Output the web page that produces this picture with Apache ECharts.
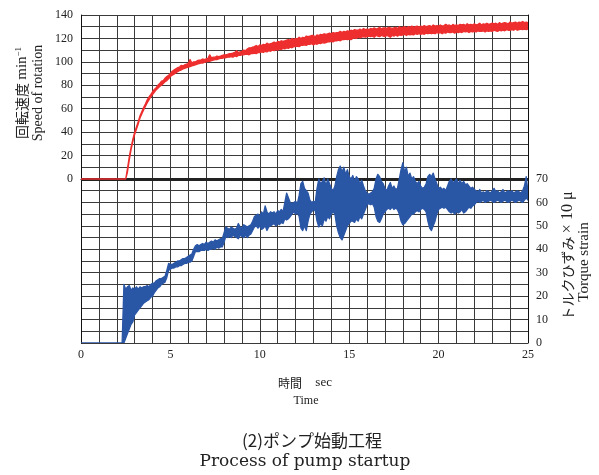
<!DOCTYPE html>
<html><head><meta charset="utf-8">
<script src="https://cdn.jsdelivr.net/npm/echarts@6/dist/echarts.min.js"></script>
<style>html,body{margin:0;padding:0;background:#fff;}#c{width:599px;height:475px;}</style>
</head><body><div id="c"></div>
<script>
// time sampled every 0.1 s from 0 to 25 s
const sampleStep = 0.1;
const xTicks = [0, 5, 10, 15, 20, 25];
const speedTicks = [0, 20, 40, 60, 80, 100, 120, 140];
const torqueTicks = [0, 10, 20, 30, 40, 50, 60, 70];

// Speed of rotation (min^-1): lower / upper edge of the noisy trace
const speedLo = [
 0,0,0,0,0,0,0,0,0,0,
 0,0,0,0,0,0,0,0,0,0,
 0,0,0,0,0,0,6,16,25,32,
 38,42.5,47,52,55.5,59,62,65,67.5,70,
 72,74,76,77.5,79,80,81.5,83,84,85.5,
 87.5,88.5,89.5,90.5,91.5,92.5,93,94,94.5,95,
 95.5,96,96.5,97,97.5,98,98.5,99,99,99.5,
 100,100.5,100.5,101,101.5,102,102,102.5,103,103,
 103.5,103.5,104,104,104.5,104,105,104.5,105.5,105.5,
 106,106,106.5,106.5,106,107,107,107.5,107,108,
 108,108.5,108,109,108.5,109.5,109,110,109.5,110.5,
 110,111,110.5,111.5,111,112,111.5,112.5,112,113,
 113,113.5,113,114,114,114.5,114,115,115,115.5,
 114.5,115.5,115,116,115.5,116.5,116,116.5,117,117,
 117.5,117,118,118,118.5,118,119,119,119.5,119,
 119.5,119,120,120.5,120,121,120.5,121,121.5,121,
 121.5,122,121.5,122,121,122.5,122,121.5,122.5,122,
 121.5,122.5,122,121,122.5,122,123,122,123,122.5,
 123,123.5,122.5,123.5,123,123.5,123,124,123.5,124,
 123.5,124,123.5,124.5,124,124.5,124,124.5,124,125,
 124.5,125,124,125,124.5,125.5,125,125,125.5,124.5,
 125.5,125,125.5,125,126,125.5,126,125,126,125.5,
 126,125.5,126.5,126,126,126.5,125.5,126.5,126,126.5,
 126,127,126.5,126,127,126.5,127,126.5,127.5,127,
 127,127.5,127,128,127,127.5,128,127.5,128,127.5,
 128
];
const speedHi = [
 0,0,0,0,0,0,0,0,0,0,
 0,0,0,0,0,0,0,0,0,0,
 0,0,0,0,0,0,9,19,27,34,
 40,44.5,49,54,57.5,61,64,67.5,70,72,
 74.5,76.5,78,80,81.5,83.5,84,86,87.5,88.5,
 90,92,93,94,95,95.5,97,96.5,97.5,98,
 98.5,102,99,100,100,101,101.5,101.5,102.5,102,
 102.5,103,106,103.5,104,104,105,104.5,105,105.5,
 106,106,106.5,107,107,107.5,108,109.5,108,108.5,
 109,110,109.5,111,112,112,112.5,113,114,113,
 114.5,114,115,114.5,116,115,115.5,116,117,116,
 117.5,117,118,117.5,118,118.5,119,118.5,120,119,
 120,119.5,121,120,121,120.5,122,121.5,122,122.5,
 122.5,121.5,123,122.5,123.5,123,124,123.5,124,124.5,
 124,125,124.5,125,125,126,125,126,125.5,126.5,
 126,127,126.5,127.5,127,127,128,127,128.5,127.5,
 128,127.5,128.5,128,129,128,128.5,129.5,128,129,
 129,128.5,129.5,129,128.5,129,129.5,128.5,130,129,
 129.5,130,129,130,129.5,130.5,129.5,130,130.5,129.5,
 130.5,130,131,130,130.5,131,130,131.5,130.5,131,
 130.5,131.5,130.5,131,132,131,131.5,130.5,132,131,
 131.5,131,132,131.5,132,131,132.5,131.5,132,131.5,
 132.5,131.5,132,133,131.5,132.5,132,133,132,132.5,
 133,132.5,133,132,133.5,132.5,133,133.5,133,132.5,
 134,133,133.5,134,133,134,133.5,134.5,133.5,134,
 133.5
];

// Torque strain (x10 micro): lower / upper edge of the noisy trace
const torqueLo = [
 0,0,0,0,0,0,0,0,0,0,
 0,0,0,0,0,0,0,0,0,0,
 0,0,0,0,0,2,4,6,8,9,
 12,13,14,15,16,17,17.5,18,18.5,19.5,
 20,21.5,22.5,23.5,24,25,25.5,26,28,31,
 31.5,32,32,32.5,32.5,33,33,33.5,34,34,
 34.5,34.5,35,37,39,39,39,39.5,39.5,39.5,
 40,39.5,40,40,40.5,40,41,40.5,41,41,
 43,45.5,45,45.5,45,46,45.5,45,44.5,46,
 45.5,45,46,45,46,46.5,48,49.5,50,49,
 50,48.5,49,50,48,49.5,50,50.5,51,50,
 51,50.5,51.5,51,53,52.5,53,54,55,56,
 55,55.5,54,49,48,50,48,52,55,56,
 57,56.5,52,49.5,51,50,53,52,54,53,
 55,56,55,50,47,45,44,46,48,50,
 51,52,52,51.5,53,52,54,53,55,57,
 59,59.5,59,59.5,58,54,52,51.5,53,55,
 56,57,57.5,57,58,57,57.5,57,55,52,
 50.5,51,52,53,54,55,55,56,56.5,56,
 57,57.5,57,56,52,49,48,50,52,55,
 57,57.5,58,57.5,58,57,56,55.5,56,55,
 56,55.5,56,57,55.5,56,57,58,57.5,58.5,
 59,60,60.5,60,60.5,61,60,60.5,60.5,61,
 60.5,60,60.5,61,60.5,60,60.5,61,60.5,60,
 60.5,61,60.5,60,60.5,61,60.5,60,61,62,
 61
];
const torqueHi = [
 0,0,0,0,0,0,0,0,0,0,
 0,0,0,0,0,0,0,0,0,0,
 0,0,0,0,25,23,24,24.5,22.5,23.5,
 23,24,23,24,23.5,24,24,24.5,24,25,
 25.5,25.5,26.5,27,27.5,27.5,28,28.5,31,34,
 33.5,33.5,34,34.5,35,35,35.5,36,36,36.5,
 37,37.5,38,40,41.5,42,41.5,42,42.5,42,
 43,42.5,43,43.5,43,44,43.5,44,44.5,44.5,
 47,49.5,49,48.5,49.5,49,48.5,49,51,49.5,
 49,50.5,50,49.5,50,50.5,52,54,54.5,55,
 54,56,55,58.5,56,55,56,55.5,56,55,
 56.5,56,57,56,60,64,62,60,59.5,60,
 60.5,59.5,63,68,69,66,65,64,61,60,
 60.5,60,66,70,68,69,70.5,67,70,68,
 66,65,67,71,74,75.5,73,75,72,74,
 71,70,71.5,69,71,70,68,69.5,67,65,
 64,63.5,64,64.5,66,70,72,71,69,68,
 66,65,67,68.5,66,67,65.5,66,70,74,
 77,73,75,71,72.5,70,71,69,68,69,
 67,66,66.5,68,71,72,71,72.5,70,68,
 66,66.5,65.5,66,65,67,69,70,68.5,69,
 70,68,69.5,68,69,67.5,68,67,66,66.5,
 65.5,65,64.5,65.5,64,64.5,64,65,64.5,64,
 65,66,64.5,65,64,64.5,65.5,64,64.5,65,
 64.5,65,64,64.5,65,64.5,64,65,67,71,
 64.5
];

const RED = '#ee2e2e';
const BLUE = '#2a56a6';
const GRID = '#3a3a3a';
const SERIF = '"Liberation Serif", "Noto Sans CJK JP", serif';
const JP = '"Noto Sans CJK JP", sans-serif';

// band drawn as a polygon through the axis scales (upper edge forward, lower edge back)
function bandSeries(name, yAxisIndex, lo, hi, color, z) {
  return {
    name: name, type: 'custom', coordinateSystem: 'cartesian2d',
    yAxisIndex: yAxisIndex, z: z, clip: true, silent: true,
    data: [[0, 0]],
    renderItem: function (params, api) {
      const pts = [];
      for (let i = 0; i < hi.length; i++) pts.push(api.coord([i * sampleStep, hi[i]]));
      for (let i = lo.length - 1; i >= 0; i--) pts.push(api.coord([i * sampleStep, lo[i]]));
      return {
        type: 'polygon', shape: {points: pts},
        style: {fill: color, stroke: color, lineWidth: 1.3, lineJoin: 'round'}
      };
    }
  };
}

const chart = echarts.init(document.getElementById('c'), null, {renderer: 'canvas'});
const option = {
  animation: false,
  backgroundColor: '#fff',
  grid: {left: 81, top: 15, width: 447, height: 328},
  xAxis: {
    type: 'value', min: 0, max: 25, interval: 1,
    axisLine: {show: true, lineStyle: {color: '#111', width: 1}},
    axisTick: {show: false},
    splitLine: {show: true, lineStyle: {color: GRID, width: 1}},
    axisLabel: {margin: 6, color: '#222', fontFamily: SERIF, fontSize: 12,
      formatter: v => xTicks.includes(v) ? String(v) : ''}
  },
  yAxis: [
    {
      type: 'value', min: -140, max: 140, interval: 10, position: 'left',
      axisLine: {show: true, lineStyle: {color: '#111', width: 1}},
      axisTick: {show: false},
      splitLine: {show: true, lineStyle: {color: GRID, width: 1}},
      axisLabel: {margin: 8, color: '#222', fontFamily: SERIF, fontSize: 12,
        formatter: v => speedTicks.includes(v) ? String(v) : ''}
    },
    {
      type: 'value', min: 0, max: 140, interval: 10, position: 'right',
      axisLine: {show: true, lineStyle: {color: '#111', width: 1}},
      axisTick: {show: false},
      splitLine: {show: false},
      axisLabel: {margin: 8, color: '#222', fontFamily: SERIF, fontSize: 12,
        formatter: v => torqueTicks.includes(v) ? String(v) : ''}
    }
  ],
  series: [
    {
      name: 'zero', type: 'line', yAxisIndex: 0, data: [], z: 2,
      markLine: {silent: true, z: 2, symbol: 'none', label: {show: false},
        lineStyle: {color: '#222', width: 3, type: 'solid'},
        data: [{yAxis: 0}]}
    },
    bandSeries('torque', 1, torqueLo, torqueHi, BLUE, 3),
    bandSeries('speed', 0, speedLo, speedHi, RED, 4)
  ],
  graphic: [
    {type: 'text', x: 22, y: 93, rotation: Math.PI / 2,
      style: {text: '{j|回転速度} {e|min}{s|−1}', align: 'center', verticalAlign: 'middle',
        rich: {j: {fontFamily: JP, fontSize: 14, fill: '#222'},
               e: {fontFamily: SERIF, fontSize: 15, fill: '#222'},
               s: {fontFamily: SERIF, fontSize: 9, fill: '#222', verticalAlign: 'top', padding: [0,0,6,0]}}}},
    {type: 'text', x: 38, y: 93, rotation: Math.PI / 2,
      style: {text: 'Speed of rotation', align: 'center', verticalAlign: 'middle',
        fontFamily: SERIF, fontSize: 14, fill: '#222'}},
    {type: 'text', x: 568, y: 256, rotation: Math.PI / 2,
      style: {text: '{j|トルクひずみ} {e|× 10 μ}', align: 'center', verticalAlign: 'middle',
        rich: {j: {fontFamily: JP, fontSize: 14, fill: '#222'},
               e: {fontFamily: SERIF, fontSize: 16, fill: '#222'}}}},
    {type: 'text', x: 584, y: 262, rotation: Math.PI / 2,
      style: {text: 'Torque strain', align: 'center', verticalAlign: 'middle',
        fontFamily: SERIF, fontSize: 15, fill: '#222'}},
    {type: 'text', x: 305, y: 383,
      style: {text: '{j|時間}    {e|sec}', align: 'center', verticalAlign: 'middle',
        rich: {j: {fontFamily: JP, fontSize: 12, fill: '#222'},
               e: {fontFamily: SERIF, fontSize: 13, fill: '#222'}}}},
    {type: 'text', x: 306, y: 401,
      style: {text: 'Time', align: 'center', verticalAlign: 'middle',
        fontFamily: SERIF, fontSize: 12, fill: '#222'}},
    {type: 'text', x: 312, y: 441,
      style: {text: '(2)ポンプ始動工程', align: 'center', verticalAlign: 'middle',
        fontFamily: JP, fontSize: 17, fill: '#222'}},
    {type: 'text', x: 305, y: 462,
      style: {text: 'Process of pump startup', align: 'center', verticalAlign: 'middle',
        fontFamily: '"DejaVu Serif", serif', fontSize: 17, fill: '#222'}}
  ]
};
chart.setOption(option);
</script>
</body></html>
